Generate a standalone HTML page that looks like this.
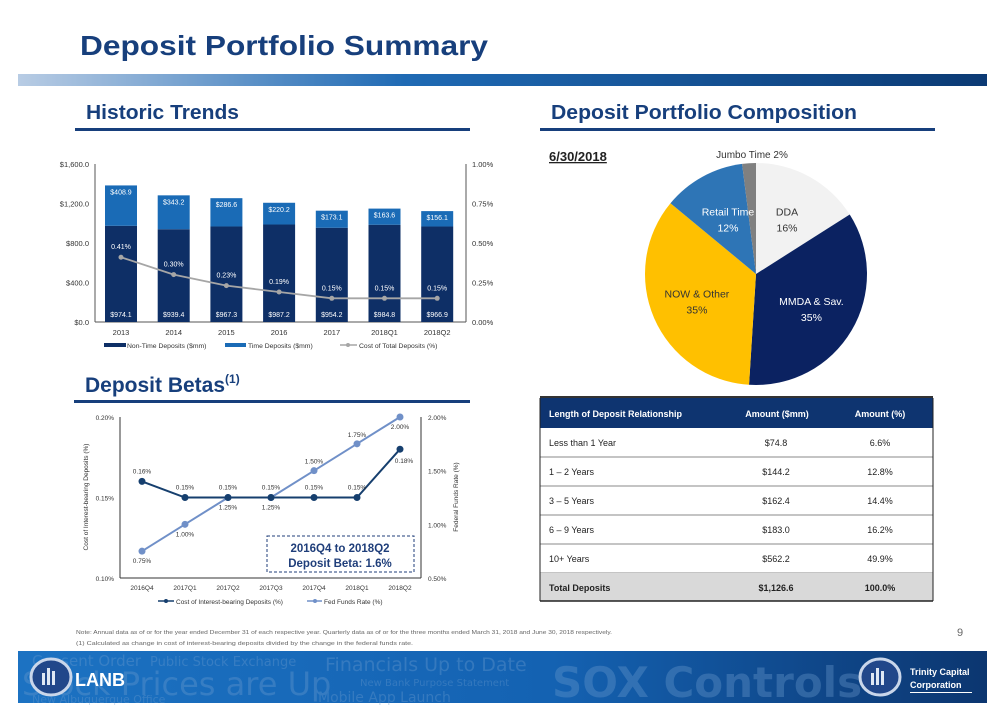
<!DOCTYPE html>
<html><head><meta charset="utf-8">
<style>
html,body{margin:0;padding:0;background:#fff;}
body{width:987px;height:724px;overflow:hidden;position:relative;font-family:"Liberation Sans",Arial,sans-serif;}
svg{position:absolute;left:0;top:0;}
</style></head>
<body>
<svg id="page" width="987" height="724" viewBox="0 0 987 724" xmlns="http://www.w3.org/2000/svg" font-family="Liberation Sans, Arial, sans-serif">
<defs>
<linearGradient id="hdrGrad" x1="0" x2="1" y1="0" y2="0">
<stop offset="0" stop-color="#b8cce4"/><stop offset="0.4" stop-color="#1f6ab4"/><stop offset="1" stop-color="#0b3a74"/>
</linearGradient>
<linearGradient id="banGrad" x1="0" x2="1" y1="0" y2="0">
<stop offset="0" stop-color="#1c72c2"/><stop offset="0.55" stop-color="#1462b2"/><stop offset="1" stop-color="#0c3670"/>
</linearGradient>
</defs>
<text x="80" y="55" font-size="28" font-weight="bold" fill="#173f7c" textLength="408" lengthAdjust="spacingAndGlyphs">Deposit Portfolio Summary</text>
<rect x="18" y="74" width="969" height="12" fill="url(#hdrGrad)"/>

<text x="86" y="119" font-size="20" font-weight="bold" fill="#173f7c" textLength="153" lengthAdjust="spacingAndGlyphs">Historic Trends</text>
<rect x="75" y="128" width="395" height="3" fill="#173f7c"/>
<text x="551" y="119" font-size="20" font-weight="bold" fill="#173f7c" textLength="306" lengthAdjust="spacingAndGlyphs">Deposit Portfolio Composition</text>
<rect x="540" y="128" width="395" height="3" fill="#173f7c"/>
<text x="85" y="392" font-size="21" font-weight="bold" fill="#173f7c">Deposit Betas<tspan font-size="12" dy="-9">(1)</tspan></text>
<rect x="74" y="400" width="396" height="3" fill="#173f7c"/>

<g id="barChart"></g>
<g id="lineChart"></g>

<text x="549" y="161" font-size="13" font-weight="bold" fill="#222" text-decoration="underline">6/30/2018</text>
<g id="pieChart"></g>
<rect x="540" y="396" width="393" height="2" fill="#333"/>

<g id="table"></g>

<text x="76" y="634" font-size="5.6" fill="#666" textLength="536" lengthAdjust="spacingAndGlyphs">Note: Annual data as of or for the year ended December 31 of each respective year. Quarterly data as of or for the three months ended March 31, 2018 and June 30, 2018 respectively.</text>
<text x="76" y="645" font-size="5.6" fill="#666" textLength="337" lengthAdjust="spacingAndGlyphs">(1)        Calculated as change in cost of interest-bearing deposits divided by the change in the federal funds rate.</text>
<text x="957" y="636" font-size="11" fill="#666">9</text>

<g>
<rect x="18" y="651" width="969" height="52" fill="url(#banGrad)"/>
<g fill="#6f9ed0" opacity="0.35" font-family="DejaVu Sans, sans-serif">
<text x="32" y="666" font-size="15">Consent Order</text>
<text x="150" y="666" font-size="13">Public Stock Exchange</text>
<text x="22" y="695" font-size="32">Stock Prices are Up</text>
<text x="32" y="703" font-size="11">New Albuquerque Office</text>
<text x="325" y="671" font-size="19">Financials Up to Date</text>
<text x="360" y="686" font-size="10">New Bank Purpose Statement</text>
<text x="318" y="702" font-size="14">Mobile App Launch</text>
<text x="552" y="697" font-size="42" font-weight="bold">SOX Controls</text>
</g>
<ellipse cx="51" cy="677" rx="20" ry="18" fill="#21478a" stroke="#c9d6ea" stroke-width="3"/>
<rect x="42" y="673" width="3" height="12" fill="#dfe8f4"/><rect x="47" y="668" width="3" height="17" fill="#dfe8f4"/><rect x="52" y="671" width="3" height="14" fill="#dfe8f4"/>
<text x="75" y="686" font-size="18" font-weight="bold" fill="#fff">LANB</text>
<ellipse cx="880" cy="677" rx="20" ry="18" fill="#21478a" stroke="#c9d6ea" stroke-width="3"/>
<rect x="871" y="673" width="3" height="12" fill="#dfe8f4"/><rect x="876" y="668" width="3" height="17" fill="#dfe8f4"/><rect x="881" y="671" width="3" height="14" fill="#dfe8f4"/>
<text x="910" y="675" font-size="9" font-weight="bold" fill="#fff">Trinity Capital</text>
<text x="910" y="688" font-size="9" font-weight="bold" fill="#fff">Corporation</text>
<rect x="910" y="692" width="62" height="1" fill="#fff"/>
</g>
</svg>

<script>
const NS = "http://www.w3.org/2000/svg";
function mk(parent, tag, attrs, text) {
  const e = document.createElementNS(NS, tag);
  for (const k in attrs) e.setAttribute(k, attrs[k]);
  if (text !== undefined) e.textContent = text;
  parent.appendChild(e);
  return e;
}

// ---- Historic trends data ----
const barCategories = ["2013","2014","2015","2016","2017","2018Q1","2018Q2"];
const nonTimeDeposits = [974.1, 939.4, 967.3, 987.2, 954.2, 984.8, 966.9];
const timeDeposits = [408.9, 343.2, 286.6, 220.2, 173.1, 163.6, 156.1];
const costTotalDeposits = [0.41, 0.30, 0.23, 0.19, 0.15, 0.15, 0.15];
const barLeftTicks = [0, 400, 800, 1200, 1600];
const barLeftTickLabels = ["$0.0","$400.0","$800.0","$1,200.0","$1,600.0"];
const barRightTicks = [0, 0.25, 0.5, 0.75, 1.0];
const barRightTickLabels = ["0.00%","0.25%","0.50%","0.75%","1.00%"];

// ---- Deposit betas data ----
const lineCategories = ["2016Q4","2017Q1","2017Q2","2017Q3","2017Q4","2018Q1","2018Q2"];
const costInterestBearing = [0.16, 0.15, 0.15, 0.15, 0.15, 0.15, 0.18];
const fedFundsRate = [0.75, 1.00, 1.25, 1.25, 1.50, 1.75, 2.00];
const lineLeftTicks = [0.10, 0.15, 0.20];
const lineLeftTickLabels = ["0.10%","0.15%","0.20%"];
const lineRightTicks = [0.5, 1.0, 1.5, 2.0];
const lineRightTickLabels = ["0.50%","1.00%","1.50%","2.00%"];

// ---- Pie data ----
const pieLabels = ["DDA","MMDA & Sav.","NOW & Other","Retail Time","Jumbo Time"];
const pieValues = [16, 35, 35, 12, 2];

// ---- Table data ----
const tableRows = ["Less than 1 Year","1 \u2013 2 Years","3 \u2013 5 Years","6 \u2013 9 Years","10+ Years"];
const tableAmounts = ["$74.8","$144.2","$162.4","$183.0","$562.2"];
const tablePcts = ["6.6%","12.8%","14.4%","16.2%","49.9%"];

// ===== Bar chart =====
(function(){
  const g = document.getElementById('barChart');
  const x0 = 95, x1 = 466, yTop = 164, yBot = 322;
  const step = 52.7, firstX = 121, bw = 32;
  const xC = i => firstX + i * step;
  const yL = v => yBot - (v / 1600) * (yBot - yTop);
  const yR = v => yBot - (v / 1.0) * (yBot - yTop);
  const fs = 7.5;
  barLeftTicks.forEach((t, i) => {
    const e = mk(g, 'text', {x: 89, y: yL(t) + 3, 'font-size': fs, 'text-anchor': 'end', fill: '#333'}, barLeftTickLabels[i]);
    
    
  });
  barRightTicks.forEach((t, i) => {
    const e = mk(g, 'text', {x: 472, y: yR(t) + 3, 'font-size': fs, fill: '#333'}, barRightTickLabels[i]);
    
    
  });
  mk(g, 'line', {x1: x0, y1: yTop, x2: x0, y2: yBot, stroke: '#555', 'stroke-width': 1});
  mk(g, 'line', {x1: x1, y1: yTop, x2: x1, y2: yBot, stroke: '#555', 'stroke-width': 1});
  mk(g, 'line', {x1: x0, y1: yBot, x2: x1, y2: yBot, stroke: '#555', 'stroke-width': 1});
  barCategories.forEach((c, i) => {
    const xc = xC(i);
    const yn = yL(nonTimeDeposits[i]);
    const yt = yL(nonTimeDeposits[i] + timeDeposits[i]);
    const b1 = mk(g, 'rect', {x: xc - bw/2, y: yn, width: bw, height: yBot - yn, fill: '#0e2f66'});
    
    
    const b2 = mk(g, 'rect', {x: xc - bw/2, y: yt, width: bw, height: yn - yt, fill: '#1a6bb6'});
    
    
    mk(g, 'text', {x: xc, y: yt + 9, 'font-size': 7, 'text-anchor': 'middle', fill: '#fff'}, '$' + timeDeposits[i].toFixed(1));
    mk(g, 'text', {x: xc, y: yBot - 5, 'font-size': 7, 'text-anchor': 'middle', fill: '#fff'}, '$' + nonTimeDeposits[i].toFixed(1));
    const cl = mk(g, 'text', {x: xc, y: 335, 'font-size': fs, 'text-anchor': 'middle', fill: '#333'}, c);
    
    
  });
  const pts = costTotalDeposits.map((v, i) => xC(i) + ',' + yR(v)).join(' ');
  const pl = mk(g, 'polyline', {points: pts, fill: 'none', stroke: '#a6a6a6', 'stroke-width': 1.8});
  
  
  costTotalDeposits.forEach((v, i) => {
    const p = mk(g, 'circle', {cx: xC(i), cy: yR(v), r: 2.5, fill: '#a6a6a6'});
    
    
    mk(g, 'text', {x: xC(i), y: yR(v) - 8, 'font-size': 7, 'text-anchor': 'middle', fill: '#fff'}, v.toFixed(2) + '%');
  });
  const lg = mk(g, 'g', {});
  
  
  mk(lg, 'rect', {x: 104, y: 343, width: 22, height: 4, fill: '#0e2f66'});
  mk(lg, 'text', {x: 127, y: 348, 'font-size': 6.8, fill: '#333'}, 'Non-Time Deposits ($mm)');
  mk(lg, 'rect', {x: 225, y: 343, width: 21, height: 4, fill: '#1a6bb6'});
  mk(lg, 'text', {x: 248, y: 348, 'font-size': 6.8, fill: '#333'}, 'Time Deposits ($mm)');
  mk(lg, 'line', {x1: 340, y1: 345, x2: 357, y2: 345, stroke: '#a6a6a6', 'stroke-width': 1.5});
  mk(lg, 'circle', {cx: 348, cy: 345, r: 2, fill: '#a6a6a6'});
  mk(lg, 'text', {x: 359, y: 348, 'font-size': 6.8, fill: '#333'}, 'Cost of Total Deposits (%)');
})();

// ===== Line chart =====
(function(){
  const g = document.getElementById('lineChart');
  const x0 = 120, x1 = 421, yTop = 417, yBot = 578;
  const firstX = 142, step = 43;
  const xC = i => firstX + i * step;
  const yL = v => yBot - ((v - 0.10) / 0.10) * (yBot - yTop);
  const yR = v => yBot - ((v - 0.5) / 1.5) * (yBot - yTop);
  mk(g, 'line', {x1: x0, y1: yTop, x2: x0, y2: yBot, stroke: '#333', 'stroke-width': 1});
  mk(g, 'line', {x1: x1, y1: yTop, x2: x1, y2: yBot, stroke: '#333', 'stroke-width': 1});
  mk(g, 'line', {x1: x0, y1: yBot, x2: x1, y2: yBot, stroke: '#333', 'stroke-width': 1});
  lineLeftTicks.forEach((t, i) => {
    const e = mk(g, 'text', {x: 114, y: yL(t) + 3, 'font-size': 6.5, 'text-anchor': 'end', fill: '#333'}, lineLeftTickLabels[i]);
    
    
  });
  lineRightTicks.forEach((t, i) => {
    const e = mk(g, 'text', {x: 428, y: yR(t) + 3, 'font-size': 6.5, fill: '#333'}, lineRightTickLabels[i]);
    
    
  });
  const yt1 = mk(g, 'text', {x: 0, y: 0, 'font-size': 6.5, 'text-anchor': 'middle', fill: '#333', transform: 'translate(88,497) rotate(-90)'}, 'Cost of Interest-bearing Deposits (%)');
  
  
  const yt2 = mk(g, 'text', {x: 0, y: 0, 'font-size': 6.5, 'text-anchor': 'middle', fill: '#333', transform: 'translate(458,497) rotate(-90)'}, 'Federal Funds Rate (%)');
  
  
  lineCategories.forEach((c, i) => {
    const e = mk(g, 'text', {x: xC(i), y: 590, 'font-size': 6.5, 'text-anchor': 'middle', fill: '#333'}, c);
    
    
  });
  const bx = mk(g, 'rect', {x: 267, y: 536, width: 147, height: 36, fill: '#fff', stroke: '#1f3e7a', 'stroke-width': 1, 'stroke-dasharray': '3,2'});
  
  
  mk(g, 'text', {x: 340, y: 552, 'font-size': 11.5, 'font-weight': 'bold', 'text-anchor': 'middle', fill: '#1f3e7a'}, '2016Q4 to 2018Q2');
  mk(g, 'text', {x: 340, y: 567, 'font-size': 11.5, 'font-weight': 'bold', 'text-anchor': 'middle', fill: '#1f3e7a'}, 'Deposit Beta: 1.6%');
  const fp = fedFundsRate.map((v, i) => xC(i) + ',' + yR(v)).join(' ');
  const fl = mk(g, 'polyline', {points: fp, fill: 'none', stroke: '#7090c8', 'stroke-width': 2});
  
  
  const cp = costInterestBearing.map((v, i) => xC(i) + ',' + yL(v)).join(' ');
  const cln = mk(g, 'polyline', {points: cp, fill: 'none', stroke: '#163f6e', 'stroke-width': 2});
  
  
  fedFundsRate.forEach((v, i) => {
    const p = mk(g, 'circle', {cx: xC(i), cy: yR(v), r: 3.5, fill: '#7090c8'});
    
    
    const below = (i === 1 || i === 0 || i === 2 || i === 3 || i === 6);
    mk(g, 'text', {x: xC(i), y: below ? yR(v) + 12 : yR(v) - 7, 'font-size': 6.5, 'text-anchor': 'middle', fill: '#333'}, v.toFixed(2) + '%');
  });
  costInterestBearing.forEach((v, i) => {
    const p = mk(g, 'circle', {cx: xC(i), cy: yL(v), r: 3.5, fill: '#163f6e'});
    
    
    const below = (i === 6);
    mk(g, 'text', {x: xC(i) + (i === 6 ? 4 : 0), y: below ? yL(v) + 14 : yL(v) - 8, 'font-size': 6.5, 'text-anchor': 'middle', fill: '#333'}, v.toFixed(2) + '%');
  });
  const lg = mk(g, 'g', {});
  
  
  mk(lg, 'line', {x1: 158, y1: 601, x2: 174, y2: 601, stroke: '#163f6e', 'stroke-width': 1.5});
  mk(lg, 'circle', {cx: 166, cy: 601, r: 2, fill: '#163f6e'});
  mk(lg, 'text', {x: 176, y: 604, 'font-size': 6.5, fill: '#333'}, 'Cost of Interest-bearing Deposits (%)');
  mk(lg, 'line', {x1: 307, y1: 601, x2: 322, y2: 601, stroke: '#7090c8', 'stroke-width': 1.5});
  mk(lg, 'circle', {cx: 315, cy: 601, r: 2, fill: '#7090c8'});
  mk(lg, 'text', {x: 324, y: 604, 'font-size': 6.5, fill: '#333'}, 'Fed Funds Rate (%)');
})();

// ===== Pie =====
(function(){
  const g = document.getElementById('pieChart');
  const cx = 756, cy = 274, r = 111;
  const colors = ['#f2f2f2', '#0b2261', '#ffc000', '#2e75b6', '#808080'];
  const labelColors = ['#333', '#fff', '#333', '#fff', '#333'];
  const total = pieValues.reduce((a, b) => a + b, 0);
  let a = 0;
  const mids = [];
  pieValues.forEach((v, i) => {
    const a0 = a, a1 = a + v / total * Math.PI * 2;
    a = a1;
    const p0 = [cx + r * Math.sin(a0), cy - r * Math.cos(a0)];
    const p1 = [cx + r * Math.sin(a1), cy - r * Math.cos(a1)];
    const large = (a1 - a0) > Math.PI ? 1 : 0;
    const s = mk(g, 'path', {d: `M${cx},${cy} L${p0[0]},${p0[1]} A${r},${r} 0 ${large} 1 ${p1[0]},${p1[1]} Z`, fill: colors[i]});
    
    
    mids.push((a0 + a1) / 2);
  });
  pieValues.forEach((v, i) => {
    const mid = mids[i];
    if (i === 4) {
      mk(g, 'text', {x: 752, y: 158, 'font-size': 10, 'text-anchor': 'middle', fill: '#333'}, pieLabels[i] + ' ' + v + '%');
    } else {
      const lr = r * 0.58;
      const lx = cx + lr * Math.sin(mid) + (i === 3 ? 3 : 0), ly = cy - lr * Math.cos(mid);
      mk(g, 'text', {x: lx, y: ly - 2, 'font-size': 10.5, 'text-anchor': 'middle', fill: labelColors[i]}, pieLabels[i]);
      mk(g, 'text', {x: lx, y: ly + 14, 'font-size': 10.5, 'text-anchor': 'middle', fill: labelColors[i]}, v + '%');
    }
  });
})();

// ===== Table =====
(function(){
  const g = document.getElementById('table');
  const x0 = 540, x1 = 933, y0 = 398, hh = 30, rh = 29;
  mk(g, 'rect', {x: x0, y: y0, width: x1 - x0, height: hh, fill: '#0e3470'});
  const hdr = [['Length of Deposit Relationship', 549, 'start'], ['Amount ($mm)', 777, 'middle'], ['Amount (%)', 880, 'middle']];
  hdr.forEach(h => {
    const e = mk(g, 'text', {x: h[1], y: y0 + 19, 'font-size': 9, 'font-weight': 'bold', fill: '#fff', 'text-anchor': h[2]}, h[0]);
    
    
  });
  tableRows.forEach((r, i) => {
    const y = y0 + hh + i * rh;
    const row = mk(g, 'g', {});
    
    
    mk(row, 'line', {x1: x0, y1: y + rh, x2: x1, y2: y + rh, stroke: '#888', 'stroke-width': 1});
    mk(row, 'text', {x: 549, y: y + 18, 'font-size': 9, fill: '#222'}, r);
    mk(row, 'text', {x: 776, y: y + 18, 'font-size': 9, fill: '#222', 'text-anchor': 'middle'}, tableAmounts[i]);
    mk(row, 'text', {x: 880, y: y + 18, 'font-size': 9, fill: '#222', 'text-anchor': 'middle'}, tablePcts[i]);
  });
  const ty = y0 + hh + tableRows.length * rh;
  const tr = mk(g, 'g', {});
  
  
  mk(tr, 'rect', {x: x0, y: ty, width: x1 - x0, height: 28, fill: '#d9d9d9'});
  mk(tr, 'text', {x: 549, y: ty + 18, 'font-size': 9, 'font-weight': 'bold', fill: '#222'}, 'Total Deposits');
  mk(tr, 'text', {x: 776, y: ty + 18, 'font-size': 9, 'font-weight': 'bold', fill: '#222', 'text-anchor': 'middle'}, '$1,126.6');
  mk(tr, 'text', {x: 880, y: ty + 18, 'font-size': 9, 'font-weight': 'bold', fill: '#222', 'text-anchor': 'middle'}, '100.0%');
  mk(g, 'line', {x1: x0, y1: ty + 28, x2: x1, y2: ty + 28, stroke: '#222', 'stroke-width': 1.5});
  mk(g, 'line', {x1: x0, y1: y0, x2: x0, y2: ty + 28, stroke: '#222', 'stroke-width': 1});
  mk(g, 'line', {x1: x1, y1: y0, x2: x1, y2: ty + 28, stroke: '#222', 'stroke-width': 1});
})();
</script>
</body></html>
